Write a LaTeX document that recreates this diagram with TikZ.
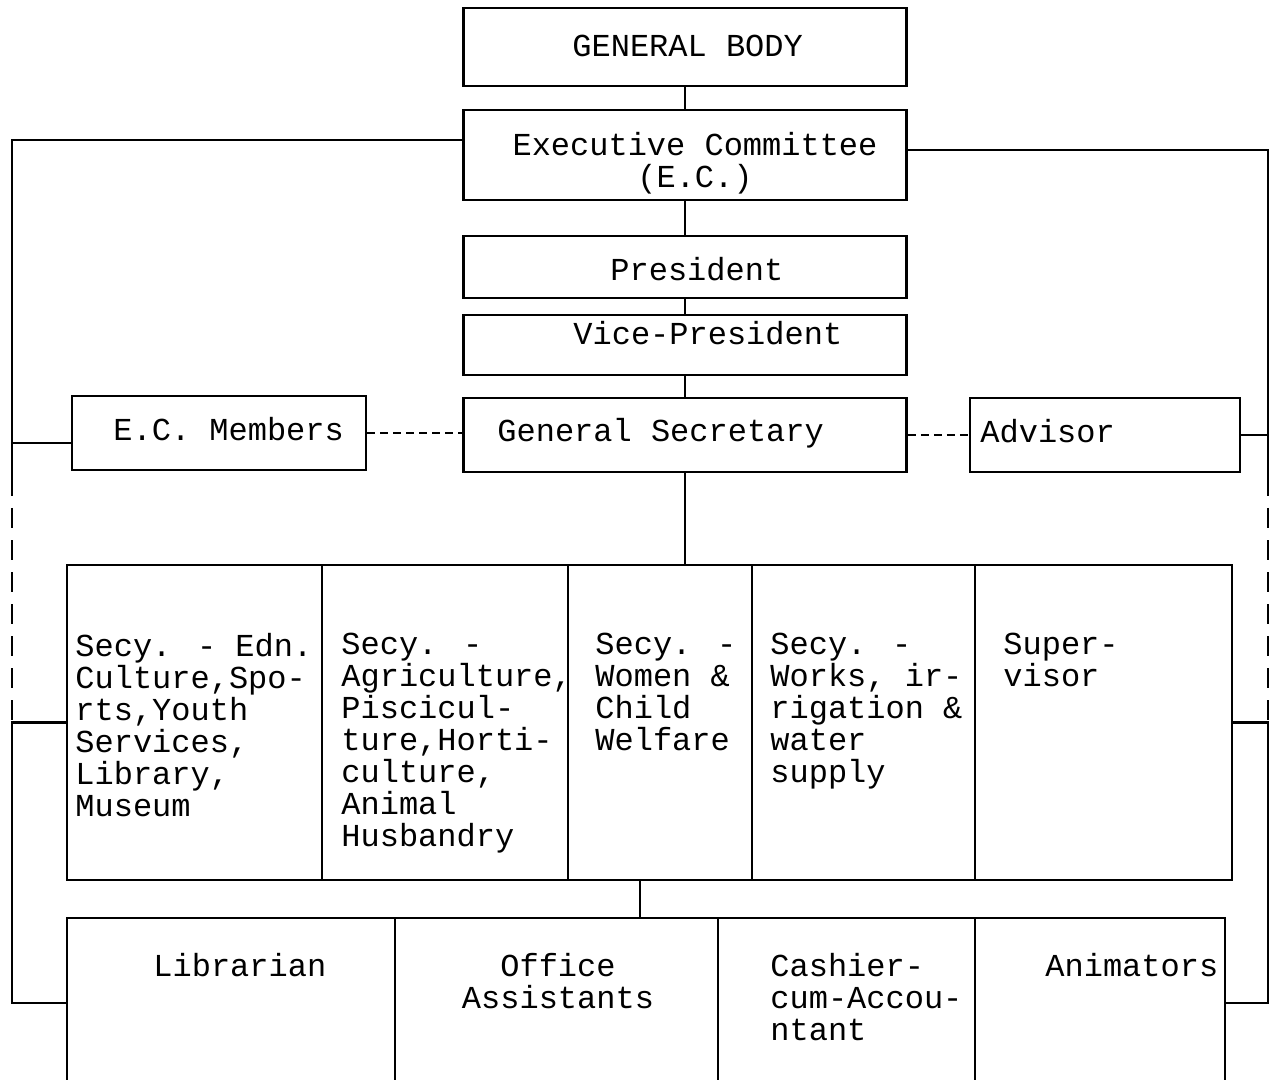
\documentclass[tikz,border=0pt]{standalone}
\usepackage{fontspec}
\setmainfont{Liberation Mono}
\usetikzlibrary{positioning,calc}
\tikzset{
  box/.style={draw=black, line width=1.4pt, minimum height=37pt, inner sep=0pt},
  secbox/.style={box, minimum height=157.5pt},
  staffbox/.style={box, minimum height=85pt},
  txt/.style={inner sep=0pt, font=\fontsize{16}{16}\selectfont},
  ltxt/.style={txt, align=left, anchor=north west},
  wire/.style={line width=1.4pt, draw=black},
  gapwire/.style={wire, dash pattern=on 10pt off 6pt},
  dotlink/.style={line width=0.9pt, draw=black, dash pattern=on 4pt off 2.5pt}
}

\begin{document}
\begin{tikzpicture}[x=0.5pt, y=-0.5pt]
  \useasboundingbox (0,0) rectangle (1280,1080);
  \fill[white] (0,0) rectangle (1280,1080);
  \clip (0,0) rectangle (1280,1080);
  % main column
  \node[box, minimum width=221.5pt, minimum height=39pt] (body) at (685,47) {};
  \node[box, minimum width=221.5pt, minimum height=45pt] (exec) at (685,155) {};
  \node[box, minimum width=221.5pt, minimum height=31pt] (pres) at (685,267) {};
  \node[box, minimum width=221.5pt, minimum height=30pt] (vice) at (685,345) {};
  \node[box, minimum width=221.5pt] (gensec) at (685,435) {};
  \node[box, minimum width=147pt] (ecm) at (219,433) {};
  \node[box, minimum width=135pt] (adv) at (1105,435) {};
  % secretaries
  \node[secbox, minimum width=127.5pt] (edn) at (194.5,722.5) {};
  \node[secbox, minimum width=123pt] (agr) at (445,722.5) {};
  \node[secbox, minimum width=92pt] (wcw) at (660,722.5) {};
  \node[secbox, minimum width=111.5pt] (wks) at (863.5,722.5) {};
  \node[secbox, minimum width=128.5pt] (sup) at (1103.5,722.5) {};
  % staff
  \node[staffbox, minimum width=164pt] (lib) at (231,1003) {};
  \node[staffbox, minimum width=161.5pt] (off) at (556.5,1003) {};
  \node[staffbox, minimum width=128.5pt] (cash) at (846.5,1003) {};
  \node[staffbox, minimum width=125pt] (anim) at (1100,1003) {};
  % labels
  \node[txt, anchor=base west] (tbody) at (572,57) {GENERAL BODY};
  \node[txt, align=center] (texec) at (695,163) {Executive Committee\\(E.C.)};
  \node[txt, anchor=base west] (tpres) at (610,281) {President};
  \node[txt, anchor=base west] (tvice) at (573,345) {Vice-President};
  \node[txt, anchor=base west] (tgen) at (497,442) {General Secretary};
  \node[txt, anchor=base west] (tecm) at (113,441) {E.C. Members};
  \node[txt, anchor=base west] (tadv) at (980,443) {Advisor};
  \node[ltxt] (tedn) at (75,633) {Secy. - Edn.\\Culture,Spo-\\rts,Youth\\Services,\\Library,\\Museum};
  \node[ltxt] (tagr) at (341,633) {Secy. -\\Agriculture,\\Piscicul-\\ture,Horti-\\culture,\\Animal\\Husbandry};
  \node[ltxt] (twcw) at (595,633) {Secy. -\\Women \&\\Child\\Welfare};
  \node[ltxt] (twks) at (770,633) {Secy. -\\Works, ir-\\rigation \&\\water\\supply};
  \node[ltxt] (tsup) at (1003,633) {Super-\\visor};
  \node[ltxt] (tlib) at (153,953) {Librarian};
  \node[txt, align=center, anchor=north] (toff) at (558,953) {Office\\Assistants};
  \node[ltxt] (tcash) at (770,953) {Cashier-\\cum-Accou-\\ntant};
  \node[ltxt] (tanim) at (1045,953) {Animators};
  % connectors
  \draw[wire] (body) -- (exec);
  \draw[wire] (exec) -- (pres);
  \draw[wire] (pres) -- (vice);
  \draw[wire] (vice) -- (gensec);
  \draw[wire] (gensec.south) -- (gensec.south |- wcw.north);
  \coordinate (split) at (640,900);
  \draw[wire] (wcw.south -| split) -- (off.north -| split);
  \draw[dotlink] (ecm.east) -- (ecm.east -| gensec.west);
  \draw[dotlink] (gensec.east) -- (adv.west);
  % side trunks
  \coordinate (lmid) at (12,443);
  \coordinate (lgap) at (12,476);
  \coordinate (rmid) at (1268,435);
  \coordinate (rgap) at (1268,476);
  \draw[wire] ([yshift=7.5pt]exec.west) -| (lmid) -- ([yshift=-5pt]ecm.west);
  \draw[wire] (lmid) -- (lgap);
  \draw[gapwire] (lgap) -- (edn.west -| lgap);
  \draw[wire] (edn.west) -| (lib.west -| lmid) -- (lib.west);
  \draw[wire] ([yshift=2.5pt]exec.east) -| (rmid) -- (adv.east);
  \draw[wire] (rmid) -- (rgap);
  \draw[gapwire] (rgap) -- (sup.east -| rgap);
  \draw[wire] (sup.east) -| (anim.east -| rmid) -- (anim.east);
\end{tikzpicture}
\end{document}
